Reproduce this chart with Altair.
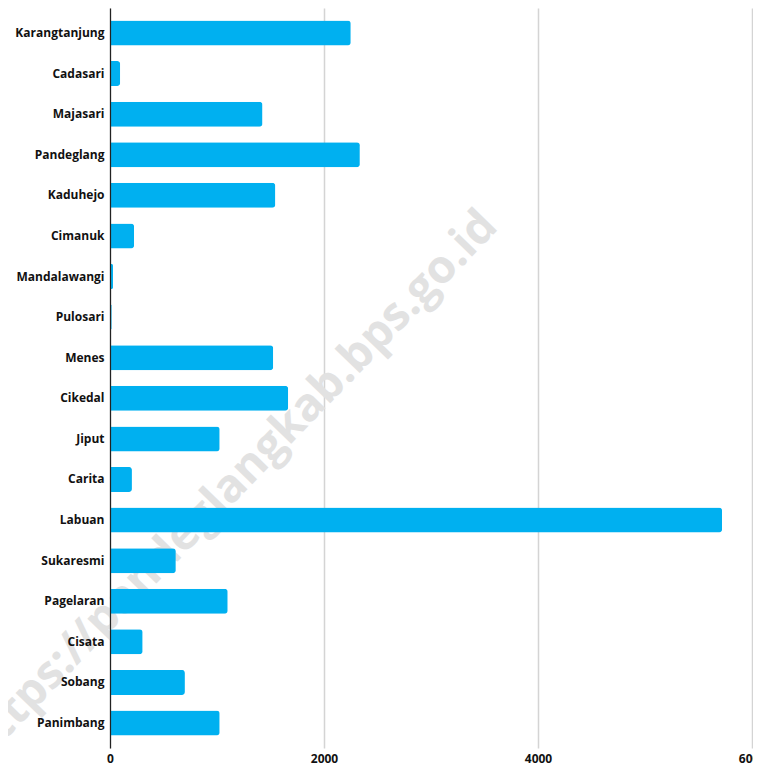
import altair as alt
import pandas as pd

kecamatan = ["Karangtanjung", "Cadasari", "Majasari", "Pandeglang", "Kaduhejo",
             "Cimanuk", "Mandalawangi", "Pulosari", "Menes", "Cikedal", "Jiput",
             "Carita", "Labuan", "Sukaresmi", "Pagelaran", "Cisata", "Sobang",
             "Panimbang"]
nilai = [2250, 95, 1425, 2335, 1545, 225, 28, 16, 1525, 1665, 1025,
         205, 5720, 615, 1100, 305, 700, 1025]
x_ticks = [0, 2000, 4000, 6000]
watermark = ["https://pandeglangkab.bps.go.id"]

df = pd.DataFrame({"kecamatan": kecamatan, "nilai": nilai})
wm = pd.DataFrame({"t": watermark})

text_layer = alt.Chart(wm).mark_text(
    angle=314, fontSize=46, font="Open Sans", fontWeight="bold",
    color="#e2e2e2", align="center", baseline="middle"
).encode(x=alt.value(121), y=alt.value(478), text="t:N")

bars = alt.Chart(df).mark_bar(color="#00B0F0", cornerRadiusEnd=3).encode(
    x=alt.X("nilai:Q",
            scale=alt.Scale(domain=[0, 6000], nice=False),
            axis=alt.Axis(values=x_ticks, title=None, grid=True, gridColor="#d4d4d4",
                          gridWidth=1.5, domain=False, ticks=False, labelFlush=False,
                          labelFont="Open Sans", labelFontWeight="bold", labelFontSize=12,
                          labelColor="#111111", labelPadding=5, format="d")),
    y=alt.Y("kecamatan:N", sort=kecamatan,
            scale=alt.Scale(paddingInner=0.384, paddingOuter=0.307),
            axis=alt.Axis(title=None, ticks=False, domain=True, domainColor="#222222",
                          domainWidth=1.2, labelFont="Open Sans", labelFontWeight="bold",
                          labelFontSize=12, labelColor="#111111", labelPadding=6,
                          zindex=1)),
)

chart = alt.layer(text_layer, bars).properties(
    width=642, height=740,
    autosize=alt.AutoSizeParams(type="none"),
    padding={"left": 102, "top": 0, "right": 1, "bottom": 19},
).configure_view(stroke=None)

chart.save("out.html", embed_options={"renderer": "svg", "actions": False})
